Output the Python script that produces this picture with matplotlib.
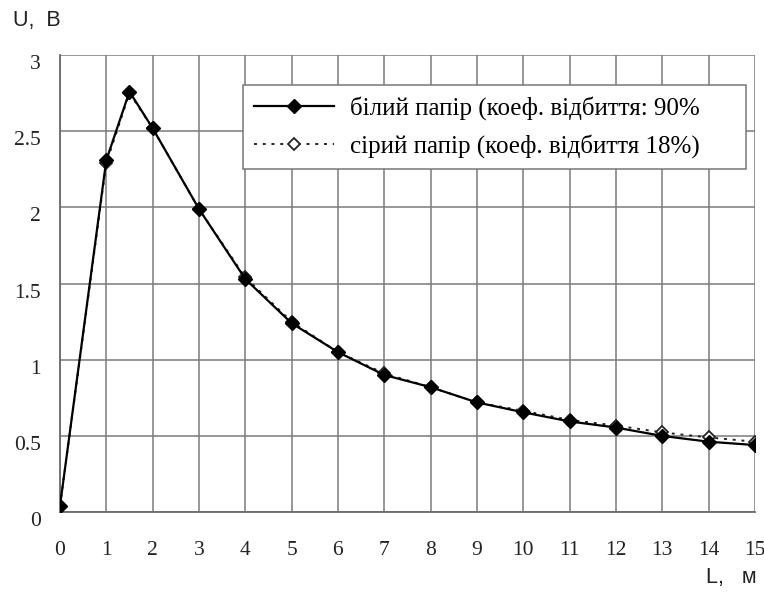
import matplotlib.pyplot as plt
from matplotlib.transforms import ScaledTranslation

# distance, m
L = [0, 1, 1.5, 2, 3, 4, 5, 6, 7, 8, 9, 10, 11, 12, 13, 14, 15]
# output voltage, V
u_white = [0.04, 2.31, 2.76, 2.52, 1.99, 1.53, 1.24, 1.05, 0.90, 0.82,
           0.72, 0.655, 0.595, 0.555, 0.50, 0.462, 0.44]
u_grey = [0.04, 2.29, 2.75, 2.52, 1.99, 1.54, 1.25, 1.05, 0.91, 0.82,
          0.72, 0.665, 0.605, 0.568, 0.523, 0.49, 0.462]

label_white = 'білий папір (коеф. відбиття: 90%'
label_grey = 'сірий папір (коеф. відбиття 18%)'

x_ticks = list(range(0, 16))
y_ticks = [0, 0.5, 1, 1.5, 2, 2.5, 3]
y_tick_labels = ['0', '0.5', '1', '1.5', '2', '2.5', '3']

plt.rcParams['font.family'] = ['Liberation Serif', 'DejaVu Serif']

fig = plt.figure(figsize=(7.64, 5.92), dpi=100)
ax = fig.add_axes([0.0785, 0.135, 0.9095, 0.772])

ax.plot(L, u_white, color='black', linewidth=1.6, marker='D', markersize=7.5,
        markerfacecolor='black', markeredgecolor='black', label=label_white, zorder=4)
ax.plot(L, u_grey, color='#222222', linewidth=1.4, linestyle=(0, (1.5, 3)), marker='D',
        markersize=6.5, markerfacecolor='white', markeredgecolor='#222222',
        markeredgewidth=1.3, label=label_grey, zorder=3)

ax.set_xlim(0, 15)
ax.set_ylim(0, 3)
ax.set_xticks(x_ticks)
ax.set_yticks(y_ticks)
ax.set_yticklabels(y_tick_labels)
ax.tick_params(axis='both', length=0, labelsize=15.5, colors='#222222')
ax.tick_params(axis='x', pad=21)
ax.tick_params(axis='y', pad=14)

# y labels sit a little below their grid lines
shift = ScaledTranslation(0, -5 / 72, fig.dpi_scale_trans)
for lbl in ax.get_yticklabels():
    lbl.set_transform(lbl.get_transform() + shift)

ax.grid(True, color='#7a7a7a', linewidth=1.1)
ax.set_axisbelow(True)
for name, sp in ax.spines.items():
    sp.set_color('#6a6a6a')
    sp.set_linewidth(1.3)
ax.spines['top'].set_visible(False)
ax.spines['right'].set_visible(False)

leg = ax.legend(loc='upper left', bbox_to_anchor=(0.263, 0.934, 0.724, 0.0),
                mode='expand', fontsize=18, frameon=True, fancybox=False,
                framealpha=1, edgecolor='#777777', handlelength=3.2,
                handletextpad=0.65, labelspacing=0.55, borderpad=0.45,
                borderaxespad=0)
leg.get_frame().set_linewidth(1.1)

fig.text(0.017, 0.965, 'U,  В', family='Liberation Sans', fontsize=15.5,
         color='#222222', va='center', ha='left')
fig.text(0.99, 0.024, 'L,   м', family='Liberation Sans', fontsize=15.5,
         color='#222222', va='center', ha='right')

fig.savefig('out.png', dpi=100)
